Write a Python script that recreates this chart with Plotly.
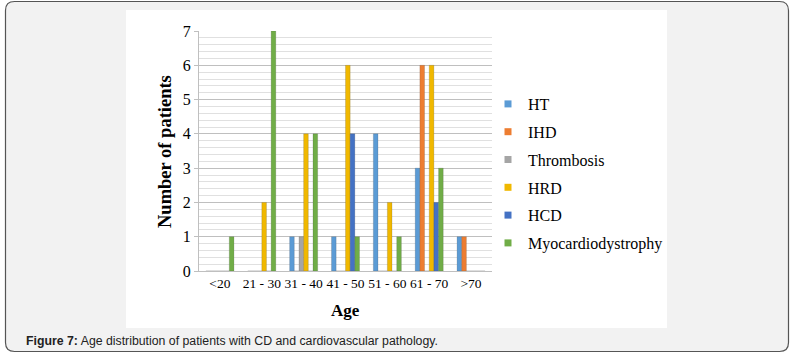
import plotly.graph_objects as go

categories = ["<20", "21 - 30", "31 - 40", "41 - 50", "51 - 60", "61 - 70", ">70"]
HT = [0, 0, 1, 1, 4, 3, 1]
IHD = [0, 0, 0, 0, 0, 6, 1]
Thrombosis = [0, 0, 1, 0, 0, 0, 0]
HRD = [0, 2, 4, 6, 2, 6, 0]
HCD = [0, 0, 0, 4, 0, 2, 0]
Myocardiodystrophy = [1, 7, 4, 1, 1, 3, 0]

series = [
    ("HT", HT, "#5B9BD5"),
    ("IHD", IHD, "#ED7D31"),
    ("Thrombosis", Thrombosis, "#A5A5A5"),
    ("HRD", HRD, "#F0B800"),
    ("HCD", HCD, "#4472C4"),
    ("Myocardiodystrophy", Myocardiodystrophy, "#70AD47"),
]

W, H = 798, 358
L, R, T, B = 199, 492, 31, 271


def px(x):
    return (x - L) / (R - L)


def py(y):
    return (B - y) / (B - T)


fig = go.Figure()
for name, vals, col in series:
    fig.add_trace(go.Bar(x=categories, y=vals, name=name, marker_color=col,
                         marker_line=dict(color="rgba(60,60,60,0.35)", width=0.5),
                         showlegend=False))
    fig.add_trace(go.Scatter(x=[None], y=[None], mode="markers", name=name,
                             legendgroup=name,
                             marker=dict(symbol="square", size=7, color=col)))

serif = "Liberation Serif, Times New Roman, serif"

# panel background shapes
x0, x1, y0, y1, r = 5.5, 788.5, 1.5, 351.5, 9
path = (f"M {px(x0+r)},{py(y0)} L {px(x1-r)},{py(y0)} Q {px(x1)},{py(y0)} {px(x1)},{py(y0+r)} "
        f"L {px(x1)},{py(y1-r)} Q {px(x1)},{py(y1)} {px(x1-r)},{py(y1)} "
        f"L {px(x0+r)},{py(y1)} Q {px(x0)},{py(y1)} {px(x0)},{py(y1-r)} "
        f"L {px(x0)},{py(y0+r)} Q {px(x0)},{py(y0)} {px(x0+r)},{py(y0)} Z")
shapes = [
    dict(type="path", xref="paper", yref="paper", path=path, fillcolor="#F2F2F2",
         line=dict(color="#555555", width=1.2), layer="below"),
    dict(type="rect", xref="paper", yref="paper", x0=px(126), x1=px(667), y0=py(10), y1=py(328),
         fillcolor="white", line=dict(width=0), layer="below"),
]

annotations = [
    dict(text="<b>Number of patients</b>", xref="paper", yref="paper", x=px(165), y=py(152),
         textangle=-90, showarrow=False, font=dict(family=serif, size=18.5, color="black"),
         xanchor="center", yanchor="middle"),
    dict(text="<b>Age</b>", xref="paper", yref="paper", x=px(345), y=py(310),
         showarrow=False, font=dict(family=serif, size=17, color="black"),
         xanchor="center", yanchor="middle"),
    dict(text="<b>Figure 7:</b> Age distribution of patients with CD and cardiovascular pathology.",
         xref="paper", yref="paper", x=px(24), y=py(341), showarrow=False,
         font=dict(family="Liberation Sans, Arial, sans-serif", size=12.3, color="#222222"),
         xanchor="left", yanchor="middle"),
]

fig.update_layout(
    width=W, height=H,
    margin=dict(l=L, r=W - R, t=T, b=H - B),
    paper_bgcolor="white",
    plot_bgcolor="white",
    barmode="group",
    bargap=0.33,
    bargroupgap=0,
    shapes=shapes,
    annotations=annotations,
    legend=dict(x=px(488), y=py(87), xanchor="left", yanchor="top",
                font=dict(family=serif, size=16, color="black"),
                bgcolor="rgba(0,0,0,0)", traceorder="grouped", tracegroupgap=4,
                itemwidth=30),
    xaxis=dict(showgrid=False, showline=True, linecolor="#BFBFBF", ticks="",
               tickfont=dict(family=serif, size=13.5, color="black"), fixedrange=True),
    yaxis=dict(range=[0, 7], dtick=1, showgrid=True, gridcolor="#BFBFBF", gridwidth=1.2,
               showline=True, linecolor="#BFBFBF", ticks="outside", ticklen=4, tickcolor="#BFBFBF",
               tickfont=dict(family=serif, size=16, color="black"), zeroline=False,
               fixedrange=True,
               minor=dict(dtick=0.2, showgrid=True, gridcolor="#E0E0E0", gridwidth=1)),
    showlegend=True,
)

fig.write_html("out.html", post_script="document.body.style.margin='0';",
               config={"displayModeBar": False})
